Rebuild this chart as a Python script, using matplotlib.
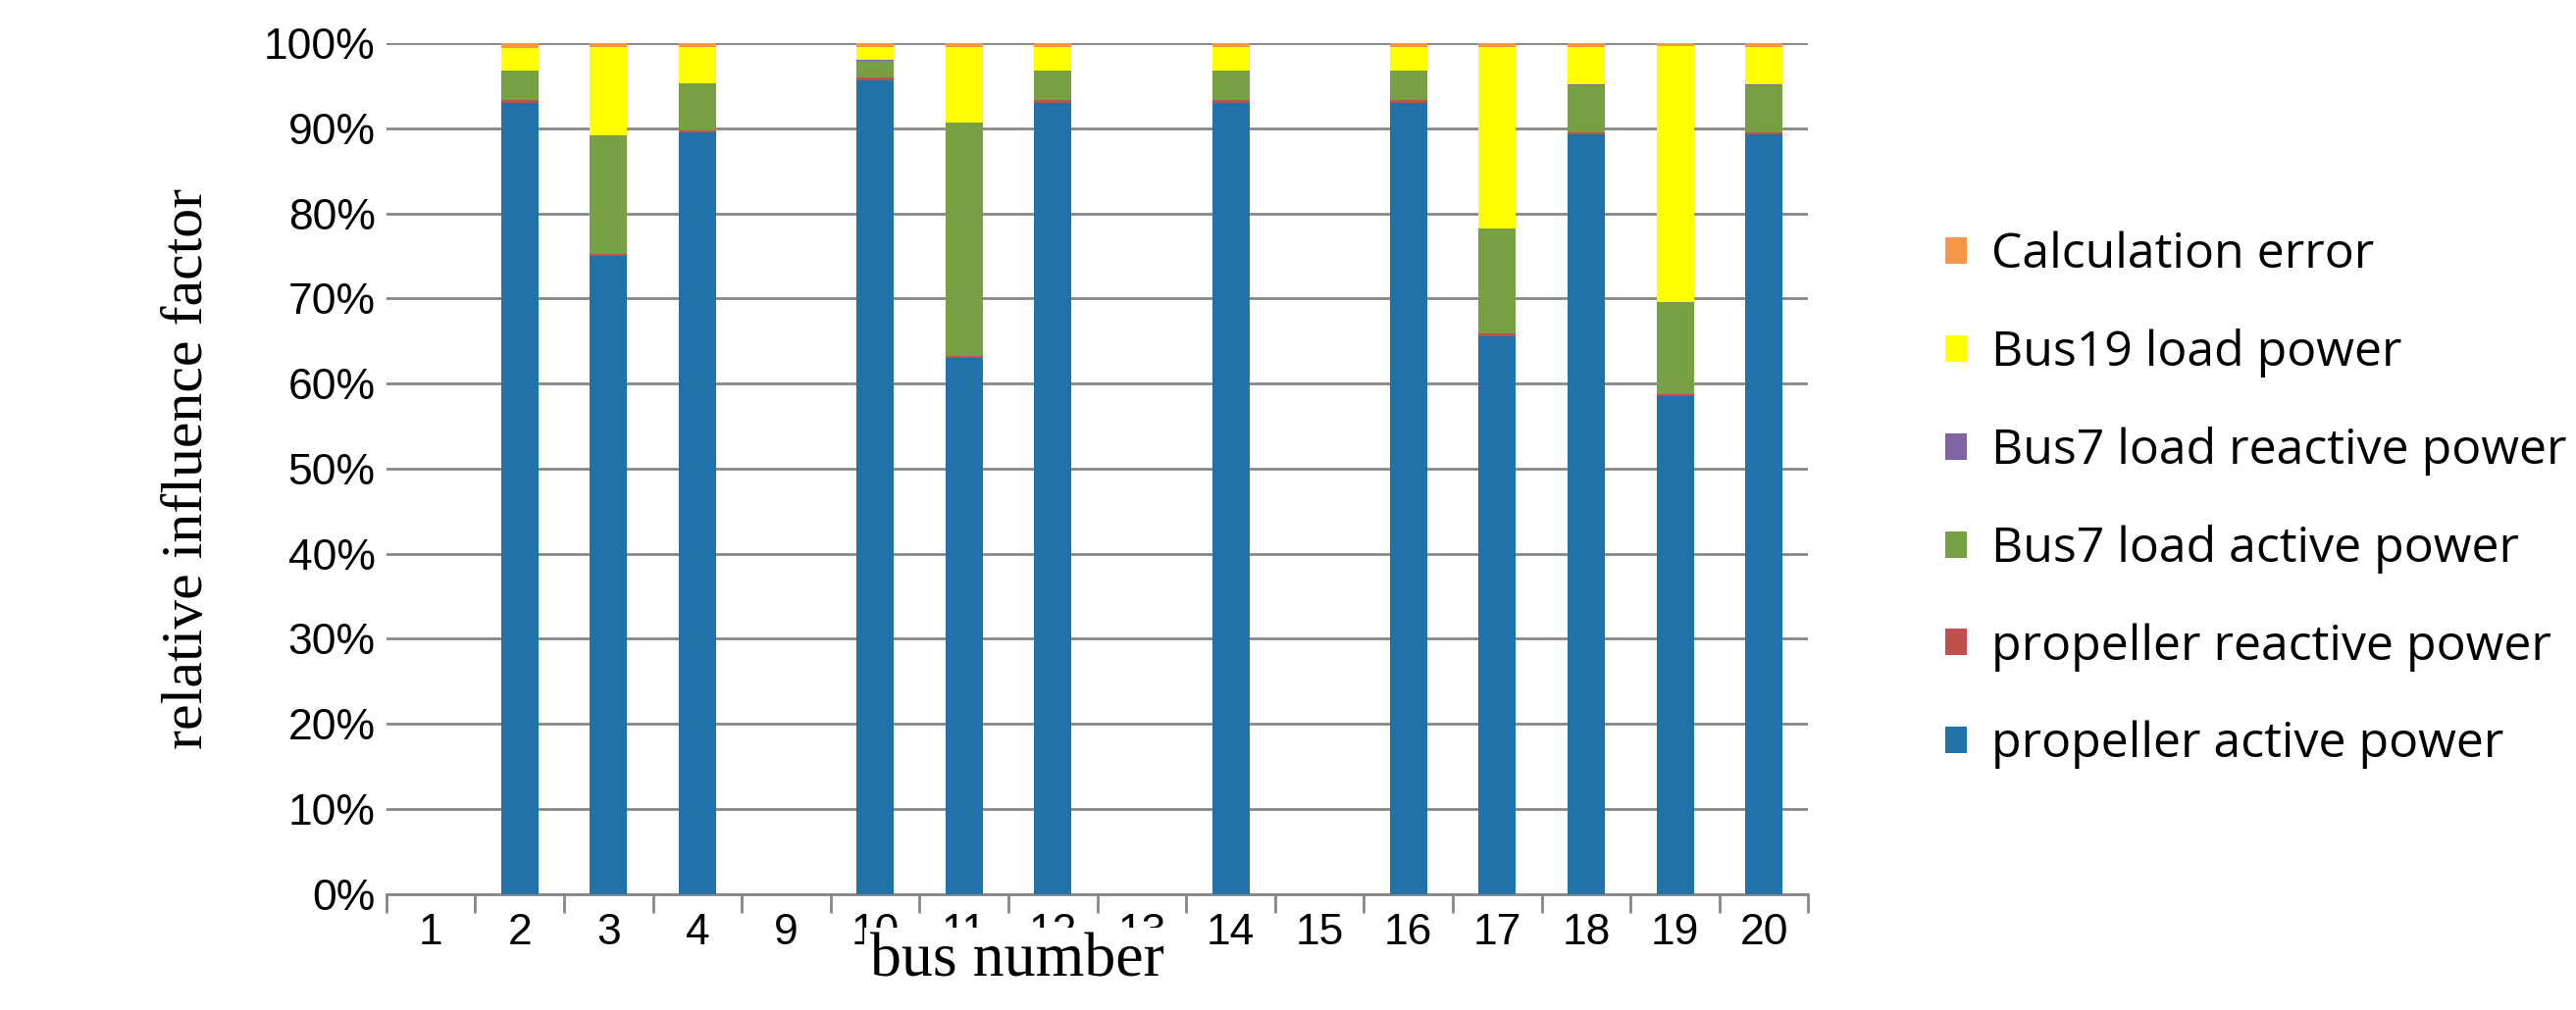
import matplotlib
matplotlib.use("Agg")
import matplotlib.pyplot as plt
import numpy as np

# bus numbers shown on the x axis
buses = ["1", "2", "3", "4", "9", "10", "11", "12", "13", "14", "15", "16", "17", "18", "19", "20"]

# percentages per component (0 where bus has no bar)
prop_active   = [0, 93.0, 75.0, 89.5, 0, 95.7, 63.0, 93.0, 0, 93.0, 0, 93.0, 65.5, 89.3, 58.5, 89.3]
prop_reactive = [0, 0.3, 0.2, 0.3, 0, 0.3, 0.2, 0.3, 0, 0.3, 0, 0.3, 0.4, 0.2, 0.3, 0.2]
bus7_active   = [0, 3.5, 14.0, 5.5, 0, 2.0, 27.5, 3.5, 0, 3.5, 0, 3.5, 12.3, 5.6, 10.8, 5.6]
bus7_reactive = [0, 0.05, 0.05, 0.05, 0, 0.05, 0.05, 0.05, 0, 0.05, 0, 0.05, 0.05, 0.05, 0.05, 0.05]
bus19_load    = [0, 2.6, 10.3, 4.2, 0, 1.5, 8.8, 2.7, 0, 2.7, 0, 2.7, 21.3, 4.4, 30.0, 4.4]
calc_error    = [0, 0.55, 0.45, 0.45, 0, 0.45, 0.45, 0.45, 0, 0.45, 0, 0.45, 0.45, 0.45, 0.35, 0.45]

series = [
    ("propeller active power", prop_active, "#2171ab"),
    ("propeller reactive power", prop_reactive, "#c0504d"),
    ("Bus7 load active power", bus7_active, "#77a043"),
    ("Bus7 load reactive power", bus7_reactive, "#8064a2"),
    ("Bus19 load power", bus19_load, "#ffff00"),
    ("Calculation error", calc_error, "#f79646"),
]

fig = plt.figure(figsize=(26.26, 10.30), dpi=100)
ax = fig.add_axes([0.150, 0.115, 0.552, 0.842])

x = np.arange(len(buses))
bottom = np.zeros(len(buses))
handles = []
for name, vals, col in series:
    vals = np.array(vals)
    h = ax.bar(x, vals, 0.42, bottom=bottom, color=col, label=name, zorder=3)
    handles.append(h)
    bottom += vals

ax.set_xlim(-0.5, len(buses) - 0.5)
ax.set_ylim(0, 100)
ax.set_yticks(np.arange(0, 101, 10))
ax.set_yticklabels([f"{v}%" for v in range(0, 101, 10)], fontsize=32, family="Liberation Sans")
ax.set_xticks(x)
ax.set_xticklabels(buses, fontsize=32, family="Liberation Sans")
ax.set_xticks(np.arange(-0.5, len(buses)), minor=True)
ax.tick_params(axis="x", which="major", length=0, pad=14)
ax.tick_params(axis="x", which="minor", length=14, width=2, color="#868686")
ax.tick_params(axis="y", length=0, pad=8)
ax.yaxis.grid(True, color="#868686", linewidth=2, zorder=0)
for s in ["top", "right", "left"]:
    ax.spines[s].set_visible(False)
ax.spines["bottom"].set_color("#868686")
ax.spines["bottom"].set_linewidth(2)

ax.set_ylabel("relative influence factor", fontsize=43, family="Liberation Serif", labelpad=36)
ax.text(6.6, -0.08, "bus number", transform=ax.get_xaxis_transform(), fontsize=46,
        family="Liberation Serif", ha="center", va="center",
        bbox=dict(facecolor="white", edgecolor="none", pad=4), zorder=10)

leg = fig.legend(handles[::-1], [s[0] for s in series][::-1], loc="center left",
                 bbox_to_anchor=(0.738, 0.505), frameon=False,
                 prop={"family": "Open Sans", "size": 36}, labelspacing=1.0,
                 handlelength=0.45, handleheight=0.45, handletextpad=0.5)

fig.savefig("out.png", dpi=100)
